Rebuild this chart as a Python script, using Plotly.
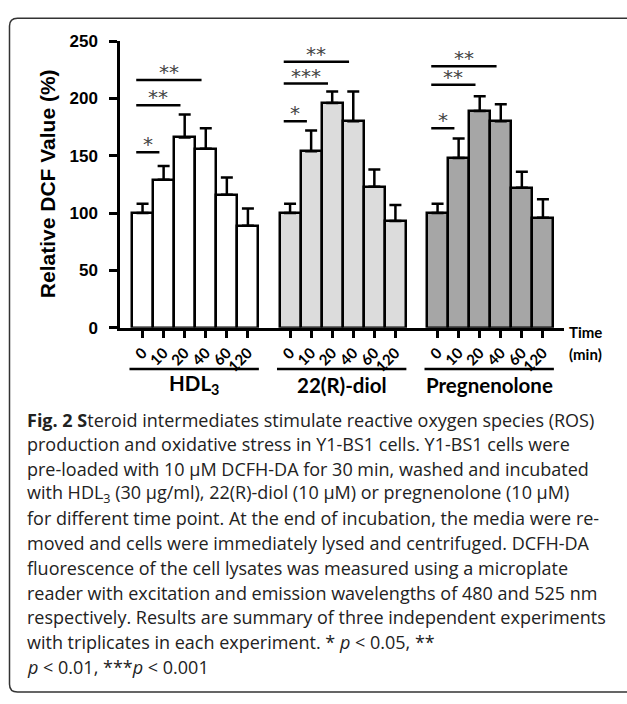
import plotly.graph_objects as go

# ---------------- data ----------------
times = ["0", "10", "20", "40", "60", "120"]
groups = ["HDL<sub>3</sub>", "22(R)-diol", "Pregnenolone"]
hdl_mean = [100, 129, 166, 156, 116, 89]
hdl_err = [8, 12, 20, 18, 15, 15]
diol_mean = [100, 154, 196, 180, 123, 93]
diol_err = [8, 18, 10, 26, 15, 14]
preg_mean = [100, 148, 189, 180, 122, 96]
preg_err = [8, 17, 13, 15, 14, 16]
# significance brackets: (target time index, height, label)
hdl_sig = [(1, 153, "*"), (2, 194, "**"), (3, 216, "**")]
diol_sig = [(1, 180, "*"), (2, 213, "***"), (3, 232, "**")]
preg_sig = [(1, 174, "*"), (2, 212, "**"), (3, 228, "**")]
yticks = [0, 50, 100, 150, 200, 250]
caption = [
    "<b>Fig. 2 S</b>teroid intermediates stimulate reactive oxygen species (ROS)",
    "production and oxidative stress in Y1-BS1 cells. Y1-BS1 cells were",
    "pre-loaded with 10 µM DCFH-DA for 30 min, washed and incubated",
    "with HDL<sub>3</sub> (30 µg/ml), 22(R)-diol (10 µM) or pregnenolone (10 µM)",
    "for different time point. At the end of incubation, the media were re-",
    "moved and cells were immediately lysed and centrifuged. DCFH-DA",
    "fluorescence of the cell lysates was measured using a microplate",
    "reader with excitation and emission wavelengths of 480 and 525 nm",
    "respectively. Results are summary of three independent experiments",
    "with triplicates in each experiment. * <i>p</i> < 0.05, **",
    "<i>p</i> < 0.01, ***<i>p</i> < 0.001",
]

means = [hdl_mean, diol_mean, preg_mean]
errs = [hdl_err, diol_err, preg_err]
sigs = [hdl_sig, diol_sig, preg_sig]
colors = ["#ffffff", "#dcdcdc", "#a6a6a6"]

W, H = 627, 704
def PX(x):
    return x / W
def PY(y):
    return 1 - y / H

fig = go.Figure()
slot = 7
tickvals, ticktext = [], []
for g in range(3):
    xs = [g * slot + j for j in range(len(times))]
    tickvals += xs
    ticktext += times
    fig.add_trace(go.Bar(
        x=xs, y=means[g], width=1,
        marker=dict(color=colors[g], line=dict(color="black", width=2.5)),
        error_y=dict(type="data", array=errs[g], arrayminus=[0] * len(times),
                     symmetric=False, color="black", thickness=2.5, width=6),
        showlegend=False, hoverinfo="skip",
    ))

shapes = []
annotations = []
LINE_Y = 370
for g in range(3):
    x0 = g * slot
    for (ti, h, lab) in sigs[g]:
        xa, xb = x0 - 0.3, x0 + ti - 0.2
        shapes.append(dict(type="line", xref="x", yref="y", x0=xa, x1=xb, y0=h, y1=h,
                           line=dict(color="black", width=2.5)))
        annotations.append(dict(xref="x", yref="y", x=(xa + xb) / 2, y=h, text=lab,
                                showarrow=False, yanchor="bottom", yshift=-6,
                                font=dict(family="DejaVu Sans", size=20, color="#444")))
    shapes.append(dict(type="line", xref="x", yref="paper", x0=x0 - 0.62,
                       x1=x0 + len(times) - 1 + 0.52, y0=PY(LINE_Y), y1=PY(LINE_Y),
                       line=dict(color="black", width=2.5)))
    annotations.append(dict(xref="x", yref="paper", x=x0 + (len(times) - 1) / 2 - 0.05,
                            y=PY(386), text="<b>" + groups[g] + "</b>", showarrow=False,
                            yanchor="middle", font=dict(family="Lato", size=20.5, color="black")))

annotations.append(dict(xref="paper", yref="paper", x=PX(567), y=PY(332), text="<b>Time</b>",
                        showarrow=False, xanchor="left", yanchor="middle",
                        font=dict(family="Lato", size=15, color="black")))
annotations.append(dict(xref="paper", yref="paper", x=PX(567), y=PY(355), text="<b>(min)</b>",
                        showarrow=False, xanchor="left", yanchor="middle",
                        font=dict(family="Lato", size=15, color="black")))
annotations.append(dict(xref="paper", yref="paper", x=PX(47), y=PY(180),
                        text="<b>Relative DCF Value (%)</b>", textangle=-90, showarrow=False,
                        xanchor="center", yanchor="middle",
                        font=dict(family="Liberation Sans", size=21, color="black")))
for k, line in enumerate(caption):
    annotations.append(dict(xref="paper", yref="paper", x=PX(25), y=PY(422 + 25.4 * k),
                            text=line, showarrow=False, xanchor="left", yanchor="middle",
                            font=dict(family="Open Sans", size=18, color="#222")))

r = 8
L, T, B, R = 9.5, 9.5, 702, 640
path = (f"M {PX(R)},{PY(B)} L {PX(L + r)},{PY(B)} Q {PX(L)},{PY(B)} {PX(L)},{PY(B - r)} "
        f"L {PX(L)},{PY(T + r)} Q {PX(L)},{PY(T)} {PX(L + r)},{PY(T)} L {PX(R)},{PY(T)}")
shapes.append(dict(type="path", xref="paper", yref="paper", path=path,
                   line=dict(color="#333", width=1.5)))

fig.update_layout(
    width=W, height=H, margin=dict(l=0, r=0, t=0, b=0),
    paper_bgcolor="white", plot_bgcolor="white",
    bargap=0, shapes=shapes, annotations=annotations,
    xaxis=dict(domain=[PX(120), PX(564)], range=[-1.07, 20.0],
               tickvals=tickvals, ticktext=["<b>" + t + "</b>" for t in ticktext],
               tickangle=-45, ticks="outside", ticklen=8, tickwidth=2.5, tickcolor="black",
               showline=True, linewidth=2.5, linecolor="black", showgrid=False, zeroline=False,
               tickfont=dict(family="Lato", size=15, color="black")),
    yaxis=dict(domain=[PY(327.5), PY(33)], range=[0, 250], tickvals=yticks,
               ticktext=["<b>%d</b>" % v for v in yticks],
               ticks="outside", ticklen=8, tickwidth=2.5, tickcolor="black",
               showline=True, linewidth=2.5, linecolor="black", showgrid=False, zeroline=False,
               ticklabelstandoff=8,
               tickfont=dict(family="Liberation Sans", size=17, color="black")),
)

post = ("document.documentElement.style.margin='0';document.body.style.margin='0';"
        "document.body.style.overflow='hidden';"
        "var gd=document.getElementById('{plot_id}');gd.style.position='absolute';"
        "gd.style.left='0px';gd.style.top='0px';")
fig.write_html("out.html", post_script=post, config={"displayModeBar": False})
